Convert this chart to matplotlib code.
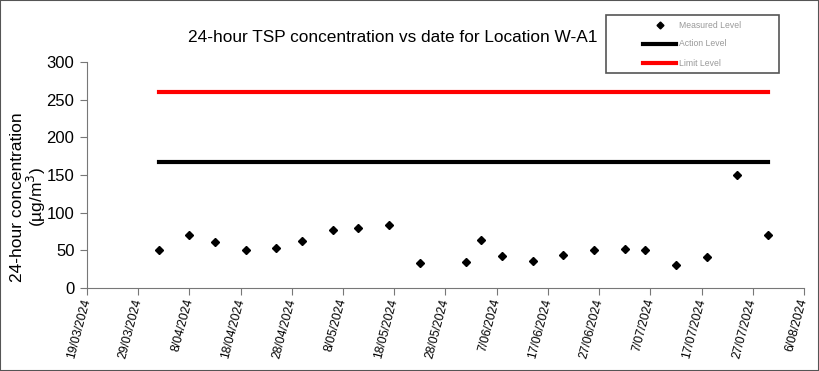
import matplotlib
matplotlib.use('Agg')
import matplotlib.pyplot as plt
from matplotlib.patches import Rectangle
from matplotlib.lines import Line2D
import datetime as dt

plt.rcParams['font.family'] = ['Liberation Sans', 'DejaVu Sans']

# measured 24-hour TSP values
dates = ['2/04/2024', '8/04/2024', '13/04/2024', '19/04/2024', '25/04/2024',
         '30/04/2024', '6/05/2024', '11/05/2024', '17/05/2024', '23/05/2024',
         '1/06/2024', '4/06/2024', '8/06/2024', '14/06/2024', '20/06/2024',
         '26/06/2024', '2/07/2024', '6/07/2024', '12/07/2024', '18/07/2024',
         '24/07/2024', '30/07/2024']
measured = [50, 71, 61, 50, 53, 63, 77, 80, 84, 33,
            34, 64, 43, 36, 44, 51, 52, 51, 30, 41,
            150, 70]
action_level = 167
limit_level = 260
legend_labels = ['Measured Level', 'Action Level', 'Limit Level']

x = [dt.datetime.strptime(d, '%d/%m/%Y') for d in dates]
xstart = dt.datetime(2024, 3, 19)
xend = dt.datetime(2024, 8, 6)

W, H = 819, 371
fig = plt.figure(figsize=(W / 100, H / 100), dpi=100)
ax = fig.add_axes([0.1062, 0.2237, 0.8755, 0.6092])

ax.plot(x, measured, linestyle='none', marker='D', color='black',
        markersize=4.5)
ax.plot([x[0], x[-1]], [action_level, action_level], color='black', lw=3)
ax.plot([x[0], x[-1]], [limit_level, limit_level], color='red', lw=3)

ax.set_xlim(xstart, xend)
ax.set_ylim(0, 300)
ax.set_yticks(range(0, 301, 50))
ticks = [xstart + dt.timedelta(days=10 * i) for i in range(15)]
ax.set_xticks(ticks)
ax.set_xticklabels(['%d/%02d/%d' % (t.day, t.month, t.year) for t in ticks],
                   rotation=75, ha='right', va='center', rotation_mode='anchor',
                   fontsize=8.7)
ax.tick_params(axis='x', direction='out', length=5, color='#777777', pad=3)
ax.tick_params(axis='y', direction='out', length=5, color='#777777',
               labelsize=12, pad=4)

for s in ['top', 'right']:
    ax.spines[s].set_visible(False)
for s in ['left', 'bottom']:
    ax.spines[s].set_color('#777777')

ax.set_ylabel('24-hour concentration\n(µg/m$^3$)', fontsize=12.5, linespacing=1.0)
ax.yaxis.set_label_coords(-0.054, 0.403)
fig.text(0.48, 0.90, '24-hour TSP concentration vs date for Location W-A1',
         ha='center', va='center', fontsize=12.4)

# legend box drawn by hand, as in the original
def fx(px):
    return px / W

def fy(py):
    return 1 - py / H

fig.patches.append(Rectangle((fx(606), fy(73)), fx(173), 58 / H,
                             transform=fig.transFigure, fill=False,
                             edgecolor='#555555', lw=1.2))
rows = [25, 44, 63]
fig.lines.append(Line2D([fx(660)], [fy(rows[0])], transform=fig.transFigure,
                        linestyle='none', marker='D', markersize=3.5,
                        color='black'))
fig.lines.append(Line2D([fx(643), fx(676)], [fy(rows[1])] * 2,
                        transform=fig.transFigure, color='black', lw=3))
fig.lines.append(Line2D([fx(643), fx(676)], [fy(rows[2])] * 2,
                        transform=fig.transFigure, color='red', lw=3))
for lab, r in zip(legend_labels, rows):
    fig.text(fx(679), fy(r), lab, ha='left', va='center', fontsize=6.2,
             color='#999999')

fig.patches.append(Rectangle((0, 0), 1, 1, transform=fig.transFigure,
                             fill=False, edgecolor='#555555', lw=1.5))

fig.savefig('out.png', dpi=100)
